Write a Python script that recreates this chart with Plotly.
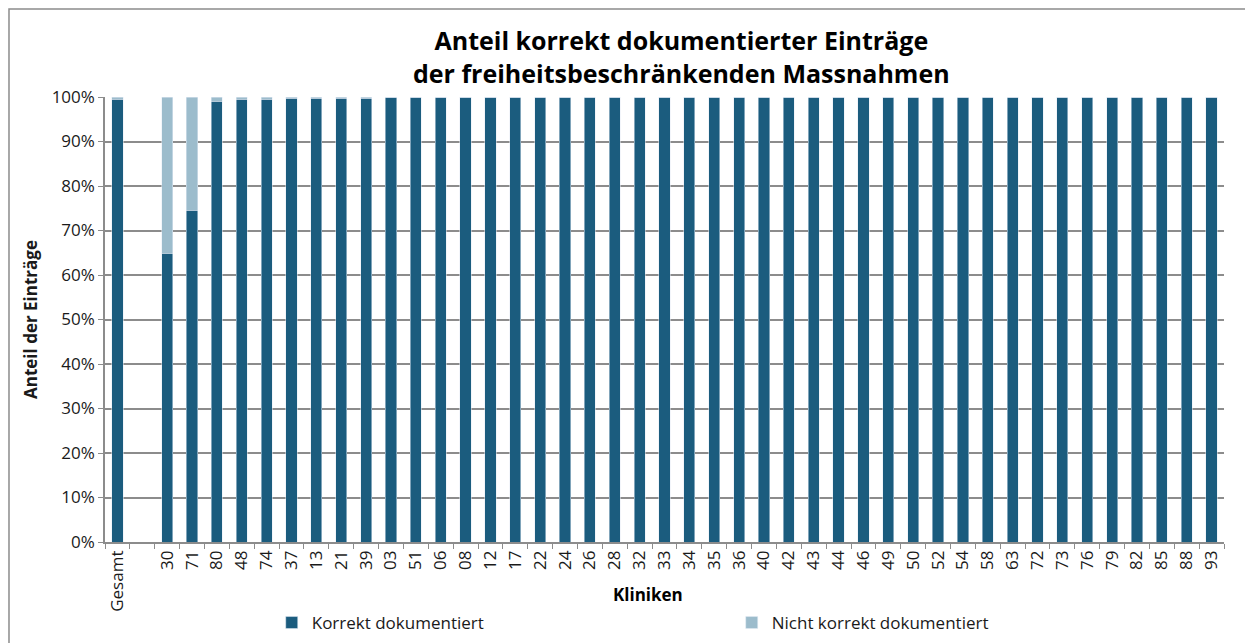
#!/usr/bin/env python3
"""Anteil korrekt dokumentierter Eintraege je Klinik (gestapelte Balken)."""

import plotly.graph_objects as go

# Data
kliniken = ["Gesamt", " ", "30", "71", "80", "48", "74", "37", "13", "21", "39",
            "03", "51", "06", "08", "12", "17", "22", "24", "26", "28", "32",
            "33", "34", "35", "36", "40", "42", "43", "44", "46", "49", "50",
            "52", "54", "58", "63", "72", "73", "76", "79", "82", "85", "88", "93"]

korrekt = [0.995, None, 0.649, 0.745, 0.990, 0.995, 0.995, 0.997, 0.997, 0.997, 0.997] \
    + [1.0] * 34
nicht_korrekt = [0.005, None, 0.351, 0.255, 0.010, 0.005, 0.005, 0.003, 0.003, 0.003, 0.003] \
    + [0.0] * 34

titel_zeilen = ["Anteil korrekt dokumentierter Einträge",
                "der freiheitsbeschränkenden Massnahmen"]

dark = "#1b5c7e"
light = "#9cbccc"
grid = "#8c8c8c"
font_family = "Open Sans"

fig = go.Figure()
fig.add_trace(go.Bar(x=kliniken, y=korrekt, name="Korrekt dokumentiert",
                     marker_color=dark, width=0.45))
fig.add_trace(go.Bar(x=kliniken, y=nicht_korrekt, name="Nicht korrekt dokumentiert",
                     marker_color=light, width=0.45))

# page body has an 8px margin, so the figure is 8px smaller and shifted
fig.update_layout(
    barmode="stack",
    width=1245,
    height=635,
    margin=dict(l=97, r=29, t=89, b=101, autoexpand=False),
    paper_bgcolor="white",
    plot_bgcolor="white",
    font=dict(family=font_family, size=17, color="#1a1a1a"),
    yaxis=dict(
        range=[0, 1],
        tickformat=".0%",
        dtick=0.1,
        showgrid=True,
        gridcolor=grid,
        gridwidth=1.5,
        showline=True,
        linecolor=grid,
        linewidth=1.5,
        ticks="outside",
        ticklen=5,
        tickcolor=grid,
        automargin=False,
        title=dict(text="<b>Anteil der Einträge</b>", font=dict(size=17), standoff=10),
    ),
    xaxis=dict(
        type="category",
        tickangle=-90,
        showline=True,
        linecolor=grid,
        linewidth=1.5,
        ticks="outside",
        ticklen=5,
        tickcolor=grid,
        tickson="boundaries",
        automargin=False,
    ),
    legend=dict(
        orientation="h",
        traceorder="normal",
        x=0.149, xanchor="left",
        y=-0.182, yanchor="middle",
        entrywidth=415,
        font=dict(size=17),
        itemwidth=30,
    ),
    shapes=[dict(type="rect", xref="paper", yref="paper",
                 x0=-0.0858, x1=1.2, y0=-0.4, y1=1.1978,
                 line=dict(color="#8c8c8c", width=1.5))],
)

# title and x axis title as annotations for exact placement
fig.add_annotation(text="<b>" + "<br>".join(titel_zeilen) + "</b>",
                   xref="paper", yref="paper", x=0.5148, y=1.0899,
                   xanchor="center", yanchor="middle", showarrow=False,
                   font=dict(size=25, color="black"))
fig.add_annotation(text="<b>Kliniken</b>", xref="paper", yref="paper",
                   x=0.4853, y=-0.119, xanchor="center", yanchor="middle",
                   showarrow=False, font=dict(size=17, color="black"))

fig.write_html("out.html")
